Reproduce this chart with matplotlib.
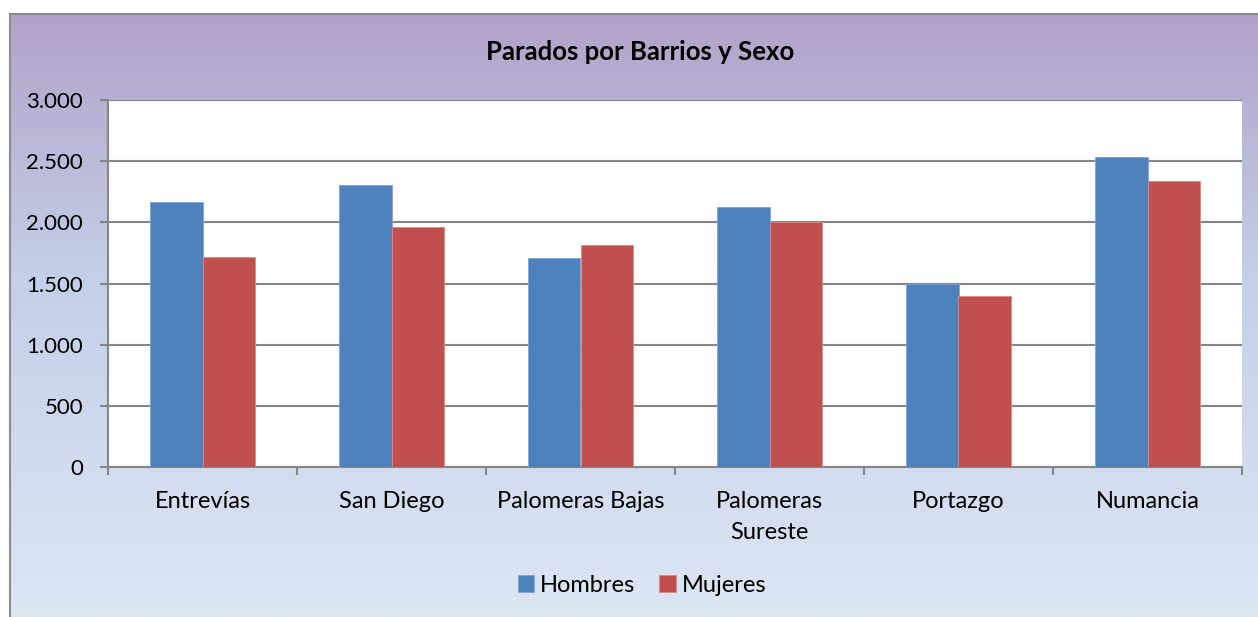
import numpy as np
import matplotlib.pyplot as plt
from matplotlib.colors import LinearSegmentedColormap

barrios = ['Entrevías', 'San Diego', 'Palomeras Bajas', 'Palomeras\nSureste', 'Portazgo', 'Numancia']
hombres = [2166, 2305, 1708, 2128, 1496, 2537]
mujeres = [1714, 1964, 1812, 2003, 1401, 2338]
yticks = [0, 500, 1000, 1500, 2000, 2500, 3000]
ylabels = ['0', '500', '1.000', '1.500', '2.000', '2.500', '3.000']

plt.rcParams['font.family'] = ['Lato', 'DejaVu Sans']

W, H = 1258, 617
fig = plt.figure(figsize=(W/100, H/100), dpi=100)
fig.patch.set_facecolor('white')

# gradient background inside the chart border
bg = fig.add_axes([10/W, 0, 1-10/W, (H-14)/H], zorder=0)
cmap = LinearSegmentedColormap.from_list('g', [(0, '#dde6f3'), (0.55, '#c4d0ea'), (1, '#b2a2c7')])
grad = np.linspace(0, 1, 256).reshape(-1, 1)
bg.imshow(grad, aspect='auto', cmap=cmap, origin='lower', extent=[0, 1, 0, 1])
bg.set_xticks([])
bg.set_yticks([])
for s in ['right', 'bottom']:
    bg.spines[s].set_visible(False)
for s in ['left', 'top']:
    bg.spines[s].set_color('#8c8c8c')
    bg.spines[s].set_linewidth(1.5)

ax = fig.add_axes([108/W, (H-467)/H, (1242-108)/W, (467-100)/H], zorder=1)
ax.set_facecolor('white')
x = np.arange(len(barrios))
w = 0.28
ax.bar(x - w/2, hombres, w, color='#4f81bd', edgecolor='#7fa3d4', linewidth=0.6, label='Hombres', zorder=3)
ax.bar(x + w/2, mujeres, w, color='#c0504d', edgecolor='#d98a88', linewidth=0.6, label='Mujeres', zorder=3)

ax.set_xlim(-0.5, len(barrios) - 0.5)
ax.set_ylim(0, 3000)
ax.set_yticks(yticks)
ax.set_yticklabels(ylabels, fontsize=16)
ax.yaxis.grid(True, color='#868686', linewidth=1.5, zorder=0)
ax.set_xticks(x)
ax.set_xticklabels(barrios, fontsize=17, linespacing=1.6)
ax.set_xticks(np.arange(len(barrios) + 1) - 0.5, minor=True)
ax.tick_params(axis='x', which='major', length=0, pad=17)
ax.tick_params(axis='x', which='minor', length=6, width=1.5, color='#868686', direction='out')
ax.tick_params(axis='y', length=6, width=1.5, color='#868686', pad=12)
for s in ['top', 'right']:
    ax.spines[s].set_visible(False)
for s in ['left', 'bottom']:
    ax.spines[s].set_color('#868686')
    ax.spines[s].set_linewidth(1.5)

fig.text(640/W, 1 - 52/H, 'Parados por Barrios y Sexo', ha='center', va='center',
         fontsize=18.5, fontweight='bold')

fig.legend(loc='center', bbox_to_anchor=(642/W, 1 - 585/H), ncol=2, frameon=False,
           fontsize=17, handlelength=0.7, handleheight=0.7, handletextpad=0.25, columnspacing=1.0)

fig.savefig('out.png', dpi=100)
